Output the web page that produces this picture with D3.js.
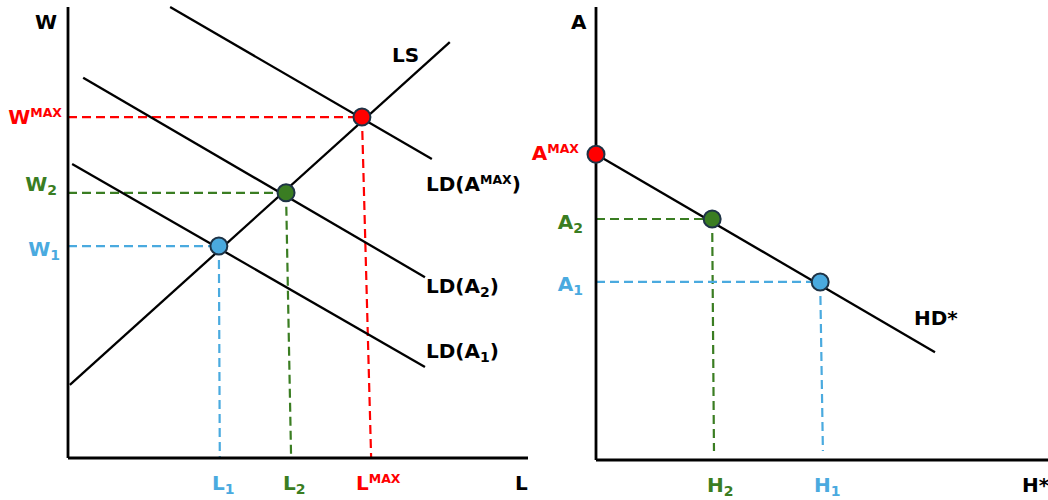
<!DOCTYPE html>
<html>
<head>
<meta charset="utf-8">
<script src="https://cdn.jsdelivr.net/npm/d3@7"></script>
<style>
  html, body { margin: 0; padding: 0; background: #fff; }
  svg { display: block; }
  text { font-family: "DejaVu Sans", Verdana, sans-serif; font-weight: bold; }
</style>
</head>
<body>
<svg id="chart" width="1048" height="500"></svg>
<script>
// ---- Labor market (left panel), units on both axes run 0..10 ----
const lsLine      = [[0.04, 1.62], [8.30, 9.22]];
const ldMaxLine   = [[2.22, 10.0], [7.91, 6.63]];
const ld2Line     = [[0.33, 8.43], [7.76, 4.01]];
const ld1Line     = [[0.09, 6.52], [7.76, 2.02]];
const equilKeys   = ["MAX", "2", "1"];
const equilL      = [6.39, 4.74, 3.28];
const equilW      = [7.56, 5.88, 4.70];
const equilTickL  = [6.59, 4.85, 3.30];
const ldLabels    = ["LD(A^MAX)", "LD(A_2)", "LD(A_1)"];

// ---- Human capital demand (right panel) ----
const hdLine      = [[0.0, 6.75], [7.50, 2.38]];
const abilityKeys = ["MAX", "2", "1"];
const abilityH    = [0.0, 2.57, 4.96];
const abilityA    = [6.75, 5.32, 3.93];
const abilityTickH = [null, 2.61, 5.02];

const colorOf = { MAX: "#ff0000", "2": "#3a7d22", "1": "#4aaadf" };
const dotStroke = "#1e3346";

const svg = d3.select("#chart");

// scales
const xL = d3.scaleLinear().domain([0, 10]).range([68, 528]);
const yL = d3.scaleLinear().domain([0, 10]).range([458, 7]);
const xR = d3.scaleLinear().domain([0, 10]).range([596, 1048]);
const yR = d3.scaleLinear().domain([0, 10]).range([460, 7]);

// rich label: "X^SUP" or "X_SUB"
function label(g, str, x, y, color, anchor, size) {
  size = size || 20;
  const t = g.append("text").attr("x", x).attr("y", y)
    .attr("fill", color).attr("font-size", size)
    .attr("text-anchor", anchor || "start");
  const m = str.match(/^([^\^_]*)([\^_])([^)]*)(\)?)$/);
  if (!m) { t.text(str); return t; }
  t.append("tspan").text(m[1]);
  if (m[2] === "^") {
    t.append("tspan").attr("font-size", 12.5).attr("dy", -7).text(m[3]);
    if (m[4]) t.append("tspan").attr("dy", 7).text(m[4]);
  } else {
    t.append("tspan").attr("font-size", 14).attr("dy", 4).text(m[3]);
    if (m[4]) t.append("tspan").attr("dy", -4).text(m[4]);
  }
  return t;
}

const line = (xs, ys) => d3.line().x(d => xs(d[0])).y(d => ys(d[1]));
const dash = "9,5";

// ===== Left panel =====
const gl = svg.append("g");

// dashed guides
equilKeys.forEach((k, i) => {
  gl.append("line")
    .attr("x1", xL(0)).attr("y1", yL(equilW[i]))
    .attr("x2", xL(equilL[i])).attr("y2", yL(equilW[i]))
    .attr("stroke", colorOf[k]).attr("stroke-width", 2.2).attr("stroke-dasharray", dash);
  gl.append("line")
    .attr("x1", xL(equilL[i])).attr("y1", yL(equilW[i]))
    .attr("x2", xL(equilTickL[i])).attr("y2", yL(0))
    .attr("stroke", colorOf[k]).attr("stroke-width", 2.2).attr("stroke-dasharray", dash);
});

// axes
gl.append("line").attr("x1", xL(0)).attr("y1", yL(10)).attr("x2", xL(0)).attr("y2", yL(0))
  .attr("stroke", "#000").attr("stroke-width", 2.8);
gl.append("line").attr("x1", xL(0)).attr("y1", yL(0)).attr("x2", xL(10)).attr("y2", yL(0))
  .attr("stroke", "#000").attr("stroke-width", 2.8);

// supply and demand curves
[lsLine, ldMaxLine, ld2Line, ld1Line].forEach(pts => {
  gl.append("path").attr("d", line(xL, yL)(pts))
    .attr("fill", "none").attr("stroke", "#000").attr("stroke-width", 2.3);
});

// equilibrium dots
equilKeys.forEach((k, i) => {
  gl.append("circle").attr("cx", xL(equilL[i])).attr("cy", yL(equilW[i])).attr("r", 8.5)
    .attr("fill", colorOf[k]).attr("stroke", dotStroke).attr("stroke-width", 2);
});

// labels
label(gl, "W", 35, 29, "#000");
label(gl, "L", 515, 490, "#000");
label(gl, "LS", 392, 62, "#000");
const ldBaseline = [191, 293, 358];
ldLabels.forEach((s, i) => label(gl, s, 426, ldBaseline[i], "#000"));

const wLabelDy = [7, -2, 10];
const wLabelX = [62, 57, 60];
equilKeys.forEach((k, i) => {
  label(gl, (k === "MAX" ? "W^" : "W_") + k, wLabelX[i], yL(equilW[i]) + wLabelDy[i], colorOf[k], "end");
});
const lLabelX = [356, 283, 212];
equilKeys.forEach((k, i) => {
  label(gl, (k === "MAX" ? "L^" : "L_") + k, lLabelX[i], 490, colorOf[k], "start");
});

// ===== Right panel =====
const gr = svg.append("g");

abilityKeys.forEach((k, i) => {
  if (abilityTickH[i] === null) return;
  gr.append("line")
    .attr("x1", xR(0)).attr("y1", yR(abilityA[i]))
    .attr("x2", xR(abilityH[i])).attr("y2", yR(abilityA[i]))
    .attr("stroke", colorOf[k]).attr("stroke-width", 2.2).attr("stroke-dasharray", dash);
  gr.append("line")
    .attr("x1", xR(abilityH[i])).attr("y1", yR(abilityA[i]))
    .attr("x2", xR(abilityTickH[i])).attr("y2", yR(0.2))
    .attr("stroke", colorOf[k]).attr("stroke-width", 2.2).attr("stroke-dasharray", dash);
});

gr.append("line").attr("x1", xR(0)).attr("y1", yR(10)).attr("x2", xR(0)).attr("y2", yR(0))
  .attr("stroke", "#000").attr("stroke-width", 2.8);
gr.append("line").attr("x1", xR(0)).attr("y1", yR(0)).attr("x2", xR(10)).attr("y2", yR(0))
  .attr("stroke", "#000").attr("stroke-width", 2.8);

gr.append("path").attr("d", line(xR, yR)(hdLine))
  .attr("fill", "none").attr("stroke", "#000").attr("stroke-width", 2.3);

abilityKeys.forEach((k, i) => {
  gr.append("circle").attr("cx", xR(abilityH[i])).attr("cy", yR(abilityA[i])).attr("r", 8.5)
    .attr("fill", colorOf[k]).attr("stroke", dotStroke).attr("stroke-width", 2);
});

label(gr, "A", 571, 29, "#000");
label(gr, "HD*", 914, 325, "#000");
label(gr, "H*", 1022, 492, "#000");

const aLabelDy = [6, 10, 9];
const aLabelX = [579, 583, 583];
abilityKeys.forEach((k, i) => {
  label(gr, (k === "MAX" ? "A^" : "A_") + k, aLabelX[i], yR(abilityA[i]) + aLabelDy[i], colorOf[k], "end");
});
const hLabelX = [null, 707, 814];
abilityKeys.forEach((k, i) => {
  if (hLabelX[i] === null) return;
  label(gr, "H_" + k, hLabelX[i], 492, colorOf[k], "start");
});
</script>
</body>
</html>
